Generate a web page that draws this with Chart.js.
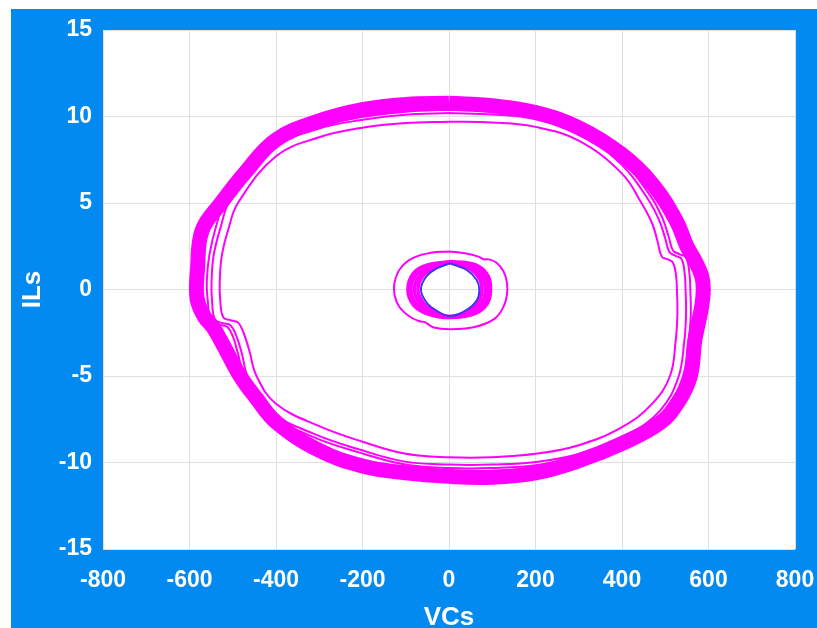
<!DOCTYPE html>
<html>
<head>
<meta charset="utf-8">
<script src="https://cdn.jsdelivr.net/npm/chart.js@4.4.1/dist/chart.umd.min.js"></script>
<style>
  html, body { margin: 0; padding: 0; background: #fff; overflow: hidden; }
  #wrap { position: absolute; left: 11px; top: 9px; width: 806px; height: 630px; }
</style>
</head>
<body>
<div id="wrap"><canvas id="chart"></canvas></div>
<script>
// axis ticks
var xTicks = [-800, -600, -400, -200, 0, 200, 400, 600, 800];
var yTicks = [-15, -10, -5, 0, 5, 10, 15];

// blue inner loop (VCs, ILs)
var blueV = [2, 41, 64, 70, 65, 41, 2, -30, -52, -65, -52, -28, 2];
var blueI = [1.52, 1.13, 0.55, 0, -0.6, -1.18, -1.53, -1.2, -0.75, 0, 0.77, 1.22, 1.52];

// magenta loops around the blue one
var m1V = [2, 45, 70, 76, 70, 45, 2, -35, -60, -72, -60, -33, 2];
var m1I = [1.55, 1.25, 0.65, 0, -0.65, -1.25, -1.56, -1.25, -0.75, 0, 0.8, 1.28, 1.55];
var m2V = [2, 50, 77, 84, 77, 50, 2, -40, -67, -80, -67, -38, 2];
var m2I = [1.58, 1.32, 0.7, 0, -0.7, -1.3, -1.58, -1.3, -0.8, 0, 0.85, 1.32, 1.58];
var m3V = [4, 56, 84, 91, 84, 55, 2, -45, -75, -88, -75, -44, 4];
var m3I = [1.6, 1.38, 0.75, 0, -0.75, -1.35, -1.6, -1.35, -0.85, 0, 0.9, 1.36, 1.6];
var m4V = [6, 62, 90, 96, 89, 60, 2, -50, -82, -95, -82, -50, 6];
var m4I = [1.62, 1.42, 0.8, 0, -0.8, -1.4, -1.62, -1.4, -0.9, 0, 0.95, 1.42, 1.62];

// small outer loop
var smallV = [0, 40, 68, 80, 92, 110, 126, 134, 134, 126, 105, 62, 5, -35, -55, -70, -92, -115, -126, -126, -113, -85, -42, 0];
var smallI = [2.2, 2.08, 1.9, 1.75, 1.74, 1.55, 1.05, 0.4, -0.3, -1.0, -1.7, -2.15, -2.3, -2.2, -1.9, -1.82, -1.55, -1.0, -0.3, 0.4, 1.2, 1.8, 2.12, 2.2];

// thin loops inside the big band
var aV = [0, 100, 200, 300, 400, 445, 470, 482, 492, 505, 518, 525, 527, 528, 524, 511, 470, 400, 300, 200, 100, 0, -100, -200, -300, -400, -445, -462, -475, -488, -505, -522, -529, -530, -525, -510, -488, -400, -300, -200, -100, 0];
var aI = [9.7, 9.65, 9.4, 8.6, 6.7, 5.0, 3.8, 2.8, 1.9, 1.75, 1.55, 0.8, 0, -1.5, -3.0, -5.0, -6.6, -7.95, -9.0, -9.5, -9.7, -9.7, -9.5, -8.8, -7.9, -6.6, -5.0, -3.5, -2.5, -1.9, -1.78, -1.6, -0.6, 0.5, 2.0, 3.5, 5.0, 7.7, 8.8, 9.35, 9.62, 9.7];
var bV = [0, 100, 200, 300, 400, 458, 486, 500, 510, 524, 538, 545, 547, 548, 544, 530, 488, 412, 308, 202, 100, 0, -102, -207, -312, -415, -463, -480, -493, -506, -523, -541, -548, -549, -544, -528, -505, -415, -308, -203, -100, 0];
var bI = [10.2, 10.12, 9.85, 9.05, 7.2, 5.3, 4.0, 2.95, 2.15, 1.95, 1.75, 0.9, 0, -1.5, -3.0, -5.1, -7.0, -8.4, -9.45, -9.97, -10.12, -10.12, -9.95, -9.25, -8.35, -7.0, -5.2, -3.6, -2.6, -2.05, -1.95, -1.75, -0.6, 0.5, 2.0, 3.6, 5.25, 8.1, 9.25, 9.8, 10.1, 10.2];
var cV = [0, 100, 200, 300, 400, 466, 494, 508, 518, 532, 548, 556, 558, 559, 554, 540, 496, 418, 310, 204, 100, 0, -104, -210, -316, -420, -470, -488, -500, -513, -531, -550, -558, -560, -554, -538, -514, -420, -312, -205, -100, 0];
var cI = [10.4, 10.3, 10.0, 9.2, 7.4, 5.4, 4.1, 3.05, 2.25, 2.05, 1.85, 0.9, 0, -1.5, -3.0, -5.1, -7.1, -8.55, -9.6, -10.15, -10.32, -10.32, -10.1, -9.4, -8.5, -7.1, -5.3, -3.7, -2.7, -2.15, -2.05, -1.85, -0.6, 0.5, 2.0, 3.7, 5.3, 8.2, 9.35, 9.95, 10.28, 10.4];

// thick outer band (centre line)
var bandV = [0, 100, 200, 300, 400, 470, 525, 550, 568, 584, 588, 584, 576, 568, 558, 530, 488, 400, 300, 200, 100, 0, -100, -200, -300, -398, -445, -483, -520, -545, -565, -580, -584, -582, -571, -527, -470, -400, -300, -200, -100, 0];
var bandI = [10.76, 10.62, 10.23, 9.35, 7.8, 6.1, 4.0, 2.5, 1.7, 0.8, 0, -1.0, -2.0, -3.0, -5.0, -6.5, -7.7, -8.9, -9.9, -10.6, -10.85, -10.8, -10.6, -10.2, -9.3, -7.7, -6.3, -5.0, -3.3, -2.2, -1.6, -0.8, 0, 1.0, 3.4, 5.0, 6.8, 8.65, 9.75, 10.4, 10.7, 10.76];

var MAG = '#ff00ff';
var BLUE = '#4433ee';

function pts(vs, is) {
  return vs.map(function (v, k) { return { x: v, y: is[k] }; });
}
function loop(vs, is, color, w) {
  return { data: pts(vs, is), borderColor: color, borderWidth: w, showLine: true, pointRadius: 0, tension: 0.4, fill: false };
}

var bgPlugin = {
  id: 'bg',
  beforeDraw: function (chart) {
    var c = chart.ctx, a = chart.chartArea;
    c.save();
    c.fillStyle = '#038af0';
    c.fillRect(0, 0, chart.width, chart.height);
    c.fillStyle = '#ffffff';
    c.fillRect(a.left, a.top, a.right - a.left, a.bottom - a.top);
    c.restore();
  }
};

var tickFont = { family: 'Liberation Sans, Arial, sans-serif', size: 23, weight: 'bold' };
var titleFont = { family: 'Liberation Sans, Arial, sans-serif', size: 26, weight: 'bold' };

new Chart(document.getElementById('chart'), {
  type: 'scatter',
  data: {
    datasets: [
      loop(blueV, blueI, BLUE, 2),
      loop(m1V, m1I, MAG, 3.5),
      loop(m2V, m2I, MAG, 3.5),
      loop(m3V, m3I, MAG, 3.5),
      loop(m4V, m4I, MAG, 3.5),
      loop(smallV, smallI, MAG, 2),
      loop(aV, aI, MAG, 2),
      loop(bV, bI, MAG, 2),
      loop(cV, cI, MAG, 2),
      loop(bandV, bandI, MAG, 15)
    ]
  },
  options: {
    responsive: true,
    maintainAspectRatio: false,
    animation: false,
    layout: { padding: { top: 21, right: 22, left: 0, bottom: 0 } },
    plugins: { legend: { display: false }, tooltip: { enabled: false } },
    scales: {
      x: {
        type: 'linear', min: -800, max: 800,
        afterBuildTicks: function (s) { s.ticks = xTicks.map(function (v) { return { value: v }; }); },
        afterFit: function (s) { s.height = 90; s.paddingLeft = 0; s.paddingRight = 0; },
        ticks: { color: '#fff', font: tickFont, padding: 18, maxRotation: 0 },
        grid: { color: '#dde0e0', drawTicks: false },
        border: { display: false },
        title: { display: true, text: 'VCs', color: '#fff', font: titleFont, padding: { top: 0, bottom: 6 } }
      },
      y: {
        type: 'linear', min: -15, max: 15,
        afterBuildTicks: function (s) { s.ticks = yTicks.map(function (v) { return { value: v }; }); },
        afterFit: function (s) { s.width = 92; s.paddingTop = 0; s.paddingBottom = 0; },
        ticks: { color: '#fff', font: tickFont, padding: 11 },
        grid: { color: '#dde0e0', drawTicks: false },
        border: { display: false },
        title: { display: true, text: 'ILs', color: '#fff', font: titleFont, padding: { top: 6, bottom: 0 } }
      }
    }
  },
  plugins: [bgPlugin]
});
</script>
</body>
</html>
